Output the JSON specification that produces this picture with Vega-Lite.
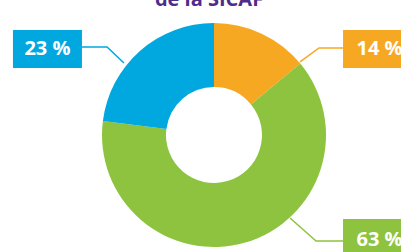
{
  "$schema": "https://vega.github.io/schema/vega-lite/v6.json",
  "width": 374,
  "height": 234,
  "autosize": "none",
  "padding": {"left": 27, "top": 18, "right": 0, "bottom": 0},
  "background": "white",
  "config": {"view": {"stroke": null}},
  "title": {
    "text": "de la SICAF",
    "font": "Open Sans",
    "fontSize": 20,
    "fontWeight": "bold",
    "color": "#4F2C8B",
    "anchor": "middle",
    "baseline": "alphabetic",
    "offset": 4,
    "dy": 12,
    "dx": -5
  },
  "datasets": {
    "slices": [
      {"zone": "A", "share": 14, "k": 1},
      {"zone": "B", "share": 63, "k": 2},
      {"zone": "C", "share": 23, "k": 3}
    ],
    "boxes": [
      {"zone": "A", "label": "14 %", "x0": 115.2, "x1": 176.8, "y0": 59.8, "y1": 93.75, "tx": 147.8, "ty": 76.8},
      {"zone": "B", "label": "63 %", "x0": 115.2, "x1": 176.8, "y0": -108.9, "y1": -75, "tx": 147.8, "ty": -93.75},
      {"zone": "C", "label": "23 %", "x0": -179.5, "x1": -117.9, "y0": 59.8, "y1": 93.75, "tx": -148.7, "ty": 76.8}
    ],
    "leaders": [
      {"zone": "A", "i": 1, "x": 115.2, "y": 77.7},
      {"zone": "A", "i": 2, "x": 93.75, "y": 77.7},
      {"zone": "A", "i": 3, "x": 76.8, "y": 65.2},
      {"zone": "B", "i": 1, "x": 115.2, "y": -94.6},
      {"zone": "B", "i": 2, "x": 91.1, "y": -94.6},
      {"zone": "B", "i": 3, "x": 67.9, "y": -74.1},
      {"zone": "C", "i": 1, "x": -117.9, "y": 78.6},
      {"zone": "C", "i": 2, "x": -95.5, "y": 78.6},
      {"zone": "C", "i": 3, "x": -80.4, "y": 64.3}
    ]
  },
  "layer": [
    {
      "data": {"name": "slices"},
      "mark": {"type": "arc", "outerRadius": 112, "innerRadius": 48},
      "encoding": {
        "theta": {"field": "share", "type": "quantitative", "stack": true},
        "order": {"field": "k", "type": "quantitative"},
        "color": {"field": "zone", "type": "nominal", "legend": null,
          "scale": {"domain": ["A", "B", "C"], "range": ["#F7A823", "#8DC33F", "#00A8DF"]}}
      }
    },
    {
      "data": {"name": "leaders"},
      "mark": {"type": "line", "strokeWidth": 1.5},
      "encoding": {
        "x": {"field": "x", "type": "quantitative", "axis": null, "scale": {"domain": [-166.96, 166.96], "nice": false, "zero": false}},
        "y": {"field": "y", "type": "quantitative", "axis": null, "scale": {"domain": [-104.46, 104.46], "nice": false, "zero": false}},
        "order": {"field": "i", "type": "quantitative"},
        "detail": {"field": "zone"},
        "color": {"field": "zone", "type": "nominal", "legend": null,
          "scale": {"domain": ["A", "B", "C"], "range": ["#F7A823", "#8DC33F", "#00A8DF"]}}
      }
    },
    {
      "data": {"name": "boxes"},
      "mark": {"type": "rect"},
      "encoding": {
        "x": {"field": "x0", "type": "quantitative", "axis": null, "scale": {"domain": [-166.96, 166.96], "nice": false, "zero": false}},
        "x2": {"field": "x1"},
        "y": {"field": "y0", "type": "quantitative", "axis": null, "scale": {"domain": [-104.46, 104.46], "nice": false, "zero": false}},
        "y2": {"field": "y1"},
        "color": {"field": "zone", "type": "nominal", "legend": null,
          "scale": {"domain": ["A", "B", "C"], "range": ["#F7A823", "#8DC33F", "#00A8DF"]}}
      }
    },
    {
      "data": {"name": "boxes"},
      "mark": {"type": "text", "font": "Open Sans", "fontSize": 20, "fontWeight": "bold", "color": "white", "align": "center", "baseline": "middle"},
      "encoding": {
        "x": {"field": "tx", "type": "quantitative", "axis": null, "scale": {"domain": [-166.96, 166.96], "nice": false, "zero": false}},
        "y": {"field": "ty", "type": "quantitative", "axis": null, "scale": {"domain": [-104.46, 104.46], "nice": false, "zero": false}},
        "text": {"field": "label"}
      }
    }
  ]
}
